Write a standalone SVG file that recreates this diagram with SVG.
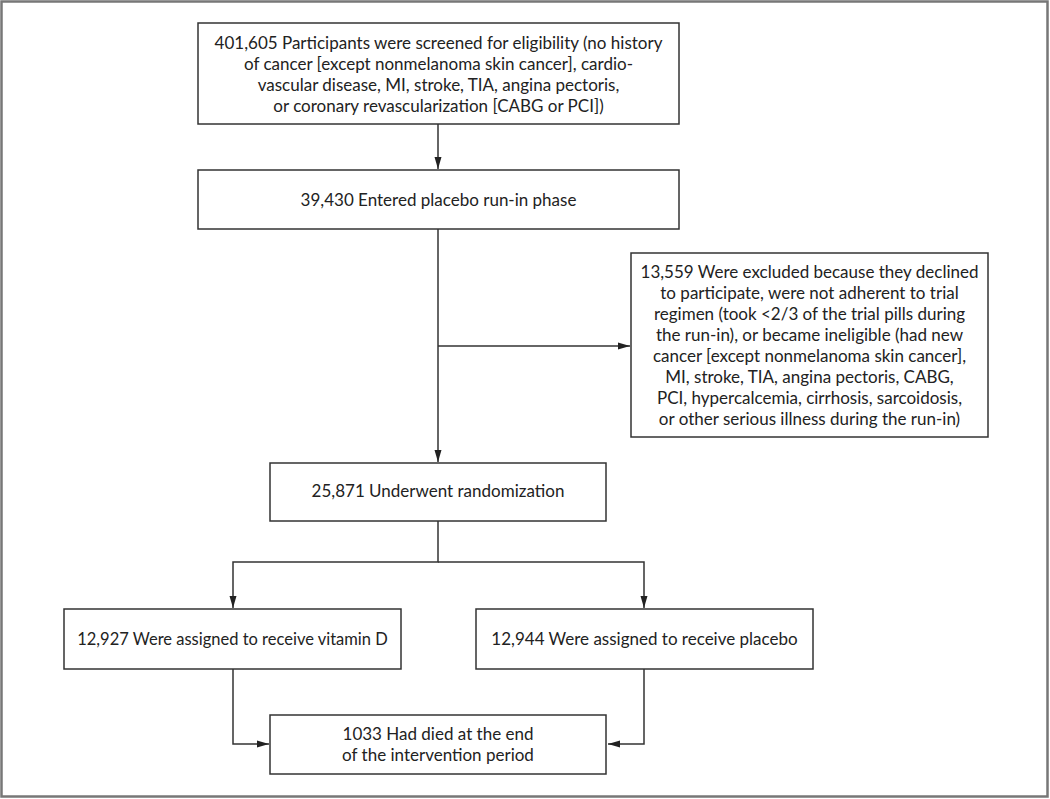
<svg xmlns="http://www.w3.org/2000/svg" width="1050" height="799" viewBox="0 0 1050 799">
<defs>
<marker id="ah" markerWidth="12" markerHeight="8" refX="12" refY="4" orient="auto" markerUnits="userSpaceOnUse">
<path d="M0,0.5 L12,4 L0,7.5 Z" fill="#222"/>
</marker>
<style>
.box{fill:#fff;stroke:#333;stroke-width:1.5}
.t{font-family:Lato,"Open Sans",sans-serif;font-size:17px;fill:#222;text-anchor:middle}
.s{font-size:16.5px}
.c{fill:none;stroke:#333;stroke-width:1.5}
</style>
</defs>
<rect x="1.5" y="1.5" width="1046" height="795" fill="#fff" stroke="#777" stroke-width="2.5"/>
<g id="connectors">
<line class="c" x1="438" y1="124" x2="438" y2="169" marker-end="url(#ah)"/>
<line class="c" x1="438" y1="229" x2="438" y2="462" marker-end="url(#ah)"/>
<line class="c" x1="438" y1="346" x2="630" y2="346" marker-end="url(#ah)"/>
<polyline class="c" points="438,521 438,562 233,562 233,608" marker-end="url(#ah)"/>
<polyline class="c" points="438,562 644,562 644,608" marker-end="url(#ah)"/>
<polyline class="c" points="233,669 233,744 269,744" marker-end="url(#ah)"/>
<polyline class="c" points="644,669 644,744 608,744" marker-end="url(#ah)"/>
</g>
<g id="screened">
<rect class="box" x="198" y="23" width="481" height="101"/>
<text class="t" x="438.5" y="49">401,605 Participants were screened for eligibility (no history</text>
<text class="t" x="438.5" y="70">of cancer [except nonmelanoma skin cancer], cardio-</text>
<text class="t" x="438.5" y="91">vascular disease, MI, stroke, TIA, angina pectoris,</text>
<text class="t" x="438.5" y="112">or coronary revascularization [CABG or PCI])</text>
</g>
<g id="runin">
<rect class="box" x="198" y="170" width="481" height="59"/>
<text class="t" x="438.5" y="206">39,430 Entered placebo run-in phase</text>
</g>
<g id="excluded">
<rect class="box" x="631" y="253" width="357" height="184"/>
<text class="t" x="809.5" y="278">13,559 Were excluded because they declined</text>
<text class="t" x="809.5" y="299">to participate, were not adherent to trial</text>
<text class="t" x="809.5" y="320">regimen (took &lt;2/3 of the trial pills during</text>
<text class="t" x="809.5" y="341">the run-in), or became ineligible (had new</text>
<text class="t" x="809.5" y="362">cancer [except nonmelanoma skin cancer],</text>
<text class="t" x="809.5" y="383">MI, stroke, TIA, angina pectoris, CABG,</text>
<text class="t" x="809.5" y="404">PCI, hypercalcemia, cirrhosis, sarcoidosis,</text>
<text class="t" x="809.5" y="425">or other serious illness during the run-in)</text>
</g>
<g id="randomized">
<rect class="box" x="270" y="463" width="336" height="58"/>
<text class="t" x="438" y="497">25,871 Underwent randomization</text>
</g>
<g id="vitaminD">
<rect class="box" x="64" y="609" width="337" height="60"/>
<text class="t s" x="232.5" y="645">12,927 Were assigned to receive vitamin D</text>
</g>
<g id="placebo">
<rect class="box" x="476" y="609" width="337" height="60"/>
<text class="t" x="644.5" y="645">12,944 Were assigned to receive placebo</text>
</g>
<g id="died">
<rect class="box" x="270" y="715" width="336" height="59"/>
<text class="t" x="438" y="740">1033 Had died at the end</text>
<text class="t" x="438" y="761">of the intervention period</text>
</g>
</svg>
